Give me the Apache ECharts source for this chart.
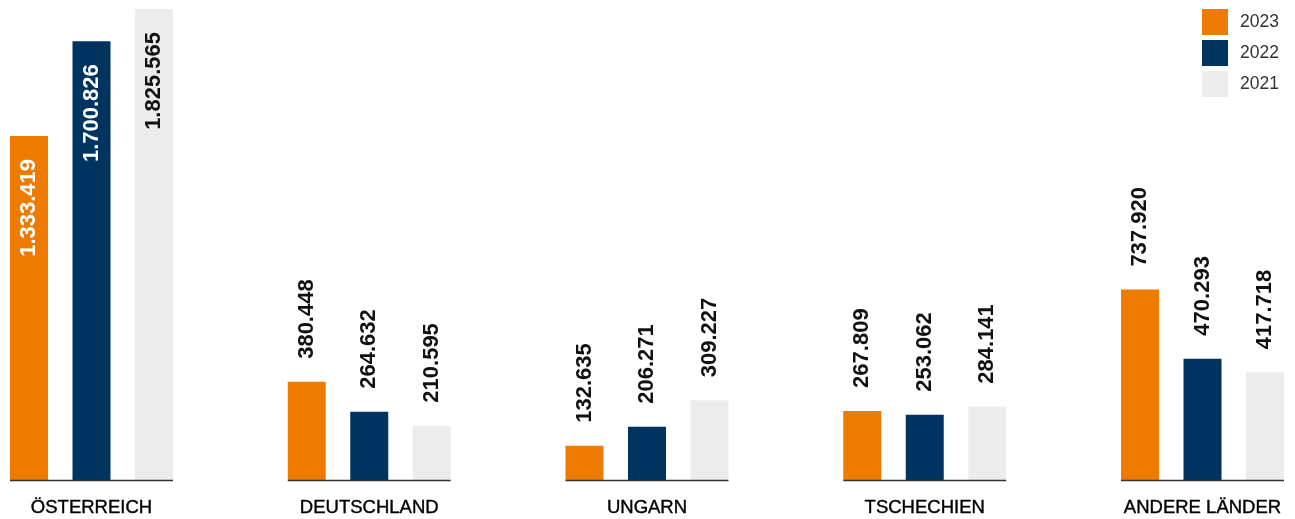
<!DOCTYPE html>
<html>
<head>
<meta charset="utf-8">
<script src="https://cdn.jsdelivr.net/npm/echarts@6/dist/echarts.min.js"></script>
<style>
  html, body { margin: 0; padding: 0; background: #fff; }
  #chart { width: 1295px; height: 519px; }
</style>
</head>
<body>
<div id="chart"></div>
<script>
var laender = ['ÖSTERREICH', 'DEUTSCHLAND', 'UNGARN', 'TSCHECHIEN', 'ANDERE LÄNDER'];
var jahre = ['2023', '2022', '2021'];
var werte2023 = [1333419, 380448, 132635, 267809, 737920];
var werte2022 = [1700826, 264632, 206271, 253062, 470293];
var werte2021 = [1825565, 210595, 309227, 284141, 417718];

var farben = ['#ee7b00', '#003460', '#ececec'];
var barW = 38, barGapPx = 24.5;
var groupW = barW * 3 + barGapPx * 2;

function fmt(v) {
  return String(v).replace(/\B(?=(\d{3})+(?!\d))/g, '.');
}

function mkSerie(name, werte, idx) {
  var innenFarbe = idx === 2 ? '#111' : '#fff';
  return {
    name: name,
    type: 'bar',
    barWidth: barW,
    barGap: (barGapPx / barW * 100) + '%',
    itemStyle: { color: farben[idx] },
    label: {
      show: true, position: 'top', distance: 23, rotate: 90,
      align: 'left', verticalAlign: 'middle',
      fontFamily: 'Liberation Sans, Arial, sans-serif', fontWeight: 'bold', fontSize: 22, color: '#111',
      formatter: function(p) { return fmt(p.value); }
    },
    data: werte.map(function(v, i) {
      // Österreich: Zahl steht im Balken
      if (i === 0) return { value: v, label: { position: 'insideTop', align: 'right', distance: 23, color: innenFarbe } };
      return v;
    }),
    z: 2
  };
}

var chart = echarts.init(document.getElementById('chart'));
chart.setOption({
  animation: false,
  textStyle: { fontFamily: 'Liberation Sans, Arial, sans-serif' },
  // Gruppenmitten liegen auf den Ticks (boundaryGap: false)
  grid: { left: 91.5, right: 92.5, top: 9, bottom: 39 },
  legend: {
    data: jahre, orient: 'vertical', left: 1202, top: 9, padding: 0,
    itemWidth: 26, itemHeight: 26, itemGap: 5, icon: 'rect',
    textStyle: { fontSize: 17.5, color: '#333', padding: [0, 0, 0, 7] }
  },
  xAxis: {
    type: 'category', data: laender, boundaryGap: false,
    axisLine: { show: false }, axisTick: { show: false }, splitLine: { show: false },
    axisLabel: { fontSize: 18.5, color: '#000', margin: 18, textBorderColor: '#000', textBorderWidth: 0.4 }
  },
  yAxis: { type: 'value', min: 0, max: 1825565, show: false, splitLine: { show: false } },
  series: [
    mkSerie(jahre[0], werte2023, 0),
    mkSerie(jahre[1], werte2022, 1),
    mkSerie(jahre[2], werte2021, 2),
    {
      // Grundlinie nur unter jeder Balkengruppe
      type: 'custom', z: 5, silent: true,
      data: laender.map(function(l, i) { return [i]; }),
      renderItem: function(params, api) {
        var c = api.coord([api.value(0), 0]);
        return {
          type: 'line',
          shape: { x1: c[0] - groupW / 2, y1: c[1] + 0.5, x2: c[0] + groupW / 2, y2: c[1] + 0.5 },
          style: { stroke: '#333', lineWidth: 1.5 }
        };
      }
    }
  ]
});
</script>
</body>
</html>
